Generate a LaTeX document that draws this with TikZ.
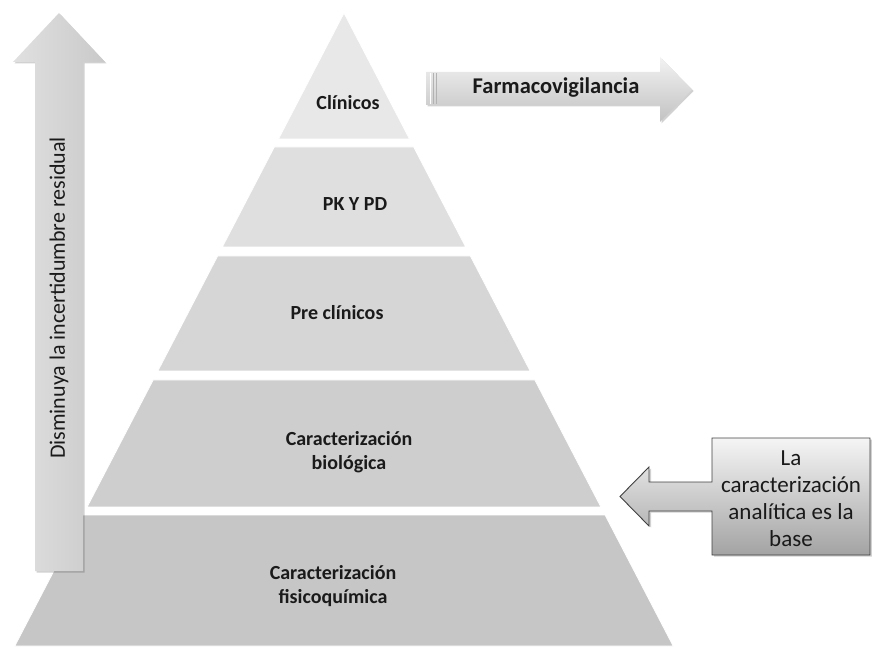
\documentclass[tikz,border=0pt]{standalone}
\usepackage{fontspec}
\setmainfont{Carlito}
\usetikzlibrary{calc}

\definecolor{lyrA}{HTML}{E8E8E8}
\definecolor{lyrB}{HTML}{DFDFDF}
\definecolor{lyrC}{HTML}{D6D6D6}
\definecolor{lyrD}{HTML}{CECECE}
\definecolor{lyrE}{HTML}{C6C6C6}
\definecolor{inkdark}{HTML}{1A1A1A}
\definecolor{rimgray}{HTML}{404040}

% one band of the pyramid between two heights (top y, bottom y, colour)
\newcommand\pyrband[3]{%
  \fill[#3, draw=white, line width=0.8pt]
    ($(apex)!{(633-#1)/633}!(baseL)$) -- ($(apex)!{(633-#1)/633}!(baseR)$) --
    ($(apex)!{(633-#2)/633}!(baseR)$) -- ($(apex)!{(633-#2)/633}!(baseL)$) -- cycle;}

\begin{document}
\begin{tikzpicture}[x=1pt, y=1pt,
  bandlabel/.style={font=\bfseries\fontsize{20}{24.5}\selectfont, text=inkdark, align=center},
  sidelabel/.style={font=\fontsize{22}{27}\selectfont, text=inkdark, align=center},
  softshadow/.style={fill=black, opacity=0.18},
]
\useasboundingbox (0,0) rectangle (872,646);

% pyramid outline points
\coordinate (apex)  at (344,633);
\coordinate (baseL) at (14.8,0);
\coordinate (baseR) at (673.2,0);

% pyramid bands, top to bottom
\pyrband{633}{507}{lyrA}
\pyrband{499}{399}{lyrB}
\pyrband{390}{275}{lyrC}
\pyrband{266}{139}{lyrD}
\pyrband{131}{0}{lyrE}

\node[bandlabel] (clin) at (348,543) {Clínicos};
\node[bandlabel] (pkpd) at (355,442) {PK Y PD};
\node[bandlabel] (prec) at (337,333) {Pre clínicos};
\node[bandlabel] (biol) at (349,194) {Caracterización\\biológica};
\node[bandlabel] (fisq) at (333,60)  {Caracterización\\fisicoquímica};

% upward arrow on the left
\fill[softshadow] (36.5,73.5) -- (36.5,582.5) -- (14.5,582.5) -- (60.5,631.5)
  -- (106.5,582.5) -- (84.5,582.5) -- (84.5,73.5) -- cycle;
\shade[left color=white!88!black, right color=white!79!black]
  (35,75) -- (35,584) -- (13,584) -- (59,633) -- (105,584) -- (83,584) -- (83,75) -- cycle;
\node[sidelabel, rotate=90] (unc) at (59,348) {Disminuya la incertidumbre residual};

% arrow to the right of the apex
\fill[softshadow] (427.5,539.5) -- (427.5,572.5) -- (661.5,572.5) -- (661.5,587.5)
  -- (693.5,555) -- (661.5,522.5) -- (661.5,539.5) -- cycle;
\shade[top color=white!95!black, bottom color=white!76!black]
  (426,541) -- (426,574) -- (660,574) -- (660,589) -- (692,556.5) -- (660,524) -- (660,541) -- cycle;
\draw[white, line width=0.8pt] (430,542) -- (430,573);
\draw[white!70!black, line width=0.6pt] (433,542) -- (433,573);
\draw[white!70!black, line width=0.6pt] (436,542) -- (436,573);
\node[font=\bfseries\fontsize{22.5}{26}\selectfont, text=inkdark] (farm) at (556,558) {Farmacovigilancia};

% callout box pointing at the base
\fill[softshadow] (714,89.5) -- (872,89.5) -- (872,206.5) -- (714,206.5) -- (714,162.5)
  -- (651,162.5) -- (651,177.5) -- (622,148) -- (651,118.5) -- (651,133.5) -- (714,133.5) -- cycle;
\shade[top color=white!96!black, bottom color=white!64!black, draw=rimgray, line width=0.9pt]
  (712,91) -- (870,91) -- (870,208) -- (712,208) -- (712,164)
  -- (649,164) -- (649,179) -- (620,149.5) -- (649,120) -- (649,135) -- (712,135) -- cycle;
\node[sidelabel, font=\fontsize{23}{27}\selectfont] (base) at (791,147.5) {La\\caracterización\\analítica es la\\base};
\end{tikzpicture}
\end{document}
